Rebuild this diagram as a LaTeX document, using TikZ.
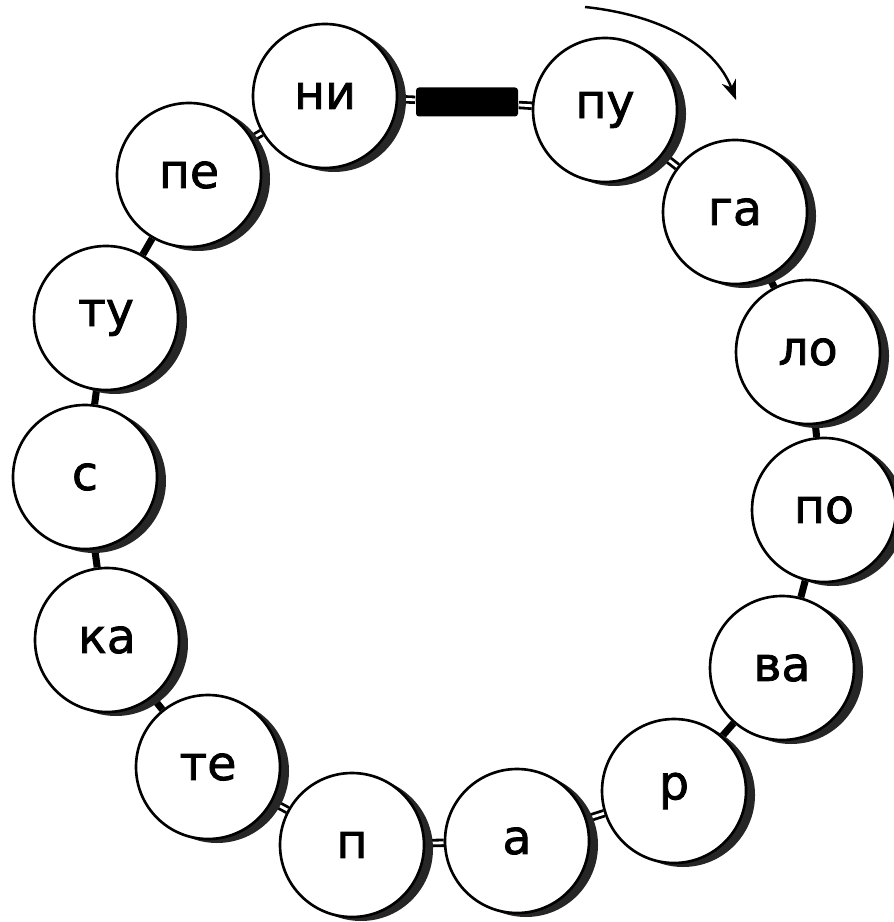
\documentclass[tikz,border=0pt]{standalone}
\usepackage{fontspec}
\newfontfamily\beadfont[FakeBold=1.6]{DejaVu Sans}
\usetikzlibrary{shadows,backgrounds,arrows.meta}
\tikzset{
  bead/.style={circle, draw=black, line width=0.75pt, fill=white, minimum size=1.44cm, inner sep=0pt,
    font=\beadfont\fontsize{13.5}{15}\selectfont,
    general shadow={fill=black!85, shadow xshift=0.09cm, shadow yshift=-0.04cm}},
  clasp/.style={rectangle, rounded corners=0.03cm, fill=black, minimum width=1.02cm, minimum height=0.29cm, inner sep=0pt},
  solidlink/.style={line width=2pt, black},
  dlink/.style={double=white, double distance=0.8pt, line width=0.8pt, draw=black},
  turn/.style={line width=0.7pt, -{Stealth[length=0.2cm, width=0.15cm]}}
}
\begin{document}
\begin{tikzpicture}
\useasboundingbox (0,0) rectangle (8.93,-9.22);
\node[bead] (ni) at (3.25,-0.96) {ни};
\node[bead] (pu) at (6.05,-1.10) {пу};
\node[bead] (ga) at (7.35,-2.12) {га};
\node[bead] (lo) at (8.08,-3.52) {ло};
\node[bead] (po) at (8.24,-5.10) {по};
\node[bead] (va) at (7.82,-6.68) {ва};
\node[bead] (r)  at (6.74,-7.91) {р};
\node[bead] (a)  at (5.17,-8.41) {а};
\node[bead] (p)  at (3.52,-8.45) {п};
\node[bead] (te) at (2.08,-7.67) {те};
\node[bead] (ka) at (1.07,-6.40) {ка};
\node[bead] (s)  at (0.85,-4.77) {с};
\node[bead] (tu) at (1.06,-3.18) {ту};
\node[bead] (pe) at (1.89,-1.75) {пе};
\node[clasp] (cl) at (4.67,-1.02) {};
\begin{scope}[on background layer]
  \draw[dlink] (ni) -- (cl);
  \draw[dlink] (cl) -- (pu);
  \draw[dlink] (pu) -- (ga);
  \draw[solidlink] (ga) -- (lo);
  \draw[solidlink] (lo) -- (po);
  \draw[solidlink] (po) -- (va);
  \draw[solidlink] (va) -- (r);
  \draw[dlink] (r) -- (a);
  \draw[dlink] (a) -- (p);
  \draw[dlink] (p) -- (te);
  \draw[solidlink] (te) -- (ka);
  \draw[solidlink] (ka) -- (s);
  \draw[solidlink] (s) -- (tu);
  \draw[solidlink] (tu) -- (pe);
  \draw[dlink] (pe) -- (ni);
\end{scope}
\coordinate (arrS) at (5.85,-0.07);
\coordinate (arrE) at (7.36,-1.0);
\draw[turn] (arrS) .. controls (6.6,-0.15) and (7.15,-0.45) .. (arrE);
\end{tikzpicture}
\end{document}
